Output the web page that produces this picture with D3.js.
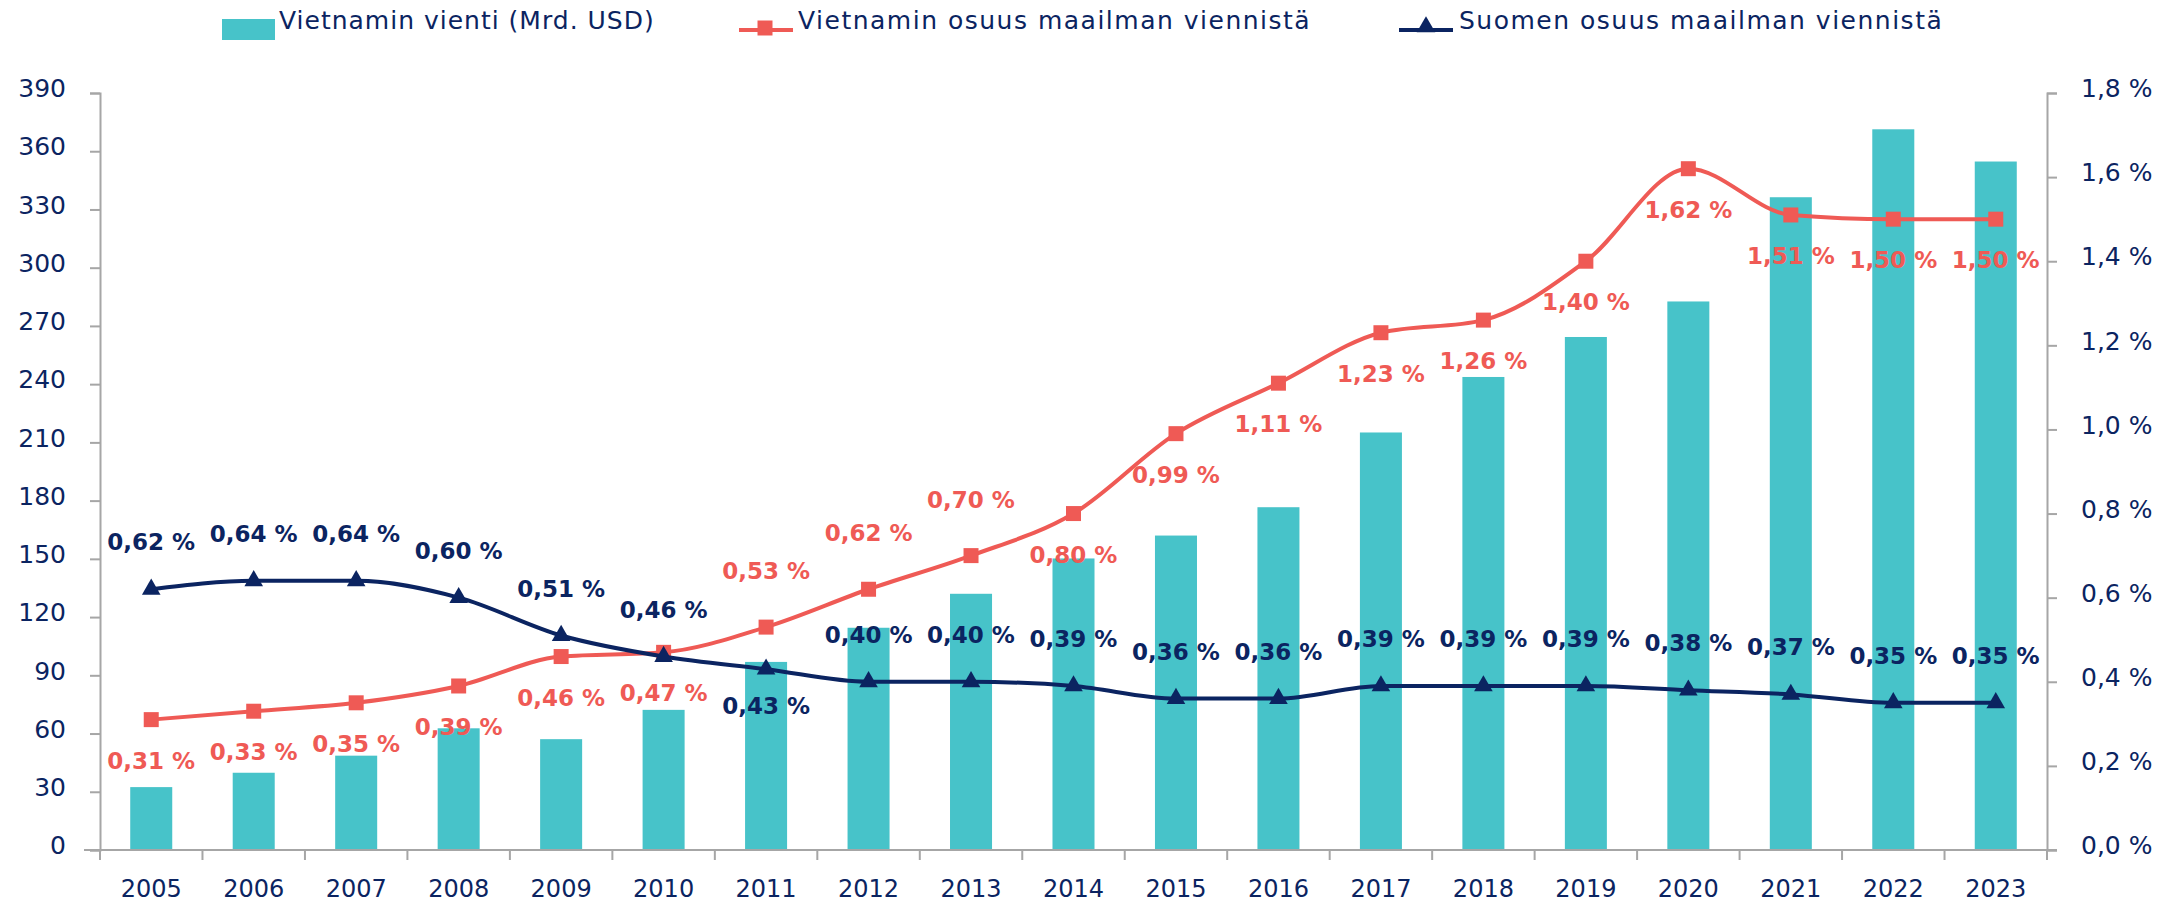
<!DOCTYPE html>
<html>
<head>
<meta charset="utf-8">
<script src="https://cdn.jsdelivr.net/npm/d3@7"></script>
<style>
  html, body { margin: 0; padding: 0; background: #ffffff; }
  svg { display: block; }
</style>
</head>
<body>
<svg id="chart" width="2172" height="906"></svg>
<script>
// ---- data ----
const years = ["2005","2006","2007","2008","2009","2010","2011","2012","2013","2014","2015","2016","2017","2018","2019","2020","2021","2022","2023"];
const vietnamExports = [32.4, 39.8, 48.6, 62.7, 57.1, 72.2, 96.9, 114.5, 132.0, 150.2, 162.0, 176.6, 215.1, 243.7, 264.3, 282.6, 336.3, 371.3, 354.7];
const vietnamShare = [0.31, 0.33, 0.35, 0.39, 0.46, 0.47, 0.53, 0.62, 0.70, 0.80, 0.99, 1.11, 1.23, 1.26, 1.40, 1.62, 1.51, 1.50, 1.50];
const finlandShare = [0.62, 0.64, 0.64, 0.60, 0.51, 0.46, 0.43, 0.40, 0.40, 0.39, 0.36, 0.36, 0.39, 0.39, 0.39, 0.38, 0.37, 0.35, 0.35];
const vietnamLabelSide = ["below","below","below","below","below","below","above","above","above","below","below","below","below","below","below","below","below","below","below"];
const finlandLabelSide = ["above","above","above","above","above","above","below","above","above","above","above","above","above","above","above","above","above","above","above"];
const leftTicks = [0, 30, 60, 90, 120, 150, 180, 210, 240, 270, 300, 330, 360, 390];
const rightTicks = [0, 0.2, 0.4, 0.6, 0.8, 1.0, 1.2, 1.4, 1.6, 1.8];
const seriesNames = ["Vietnamin vienti (Mrd. USD)", "Vietnamin osuus maailman viennistä", "Suomen osuus maailman viennistä"];

(function () {
// ---- style ----
const TEAL = "#47C3C9", RED = "#EF5A55", NAVY = "#0B2461", GRID = "#A6A6A6";
const FONT = "'DejaVu Sans', sans-serif";

const svg = d3.select("#chart");
const pLeft = 100, pRight = 2047, pTop = 93, pBottom = 850;

const x = d3.scaleBand().domain(years).range([pLeft, pRight]).paddingInner(0.59).paddingOuter(0.295);
const xBand = d3.scaleBand().domain(years).range([pLeft, pRight]);
const yL = d3.scaleLinear().domain([0, 390]).range([pBottom, pTop]);
const yR = d3.scaleLinear().domain([0, 1.8]).range([pBottom, pTop]);
const cx = d => xBand(d) + xBand.bandwidth() / 2;

const fmtComma = (v, n) => v.toFixed(n).replace(".", ",") + " %";

// bars
svg.append("g").selectAll("rect").data(years).join("rect")
  .attr("x", d => x(d))
  .attr("width", x.bandwidth())
  .attr("y", (d, i) => yL(vietnamExports[i]))
  .attr("height", (d, i) => yL(0) - yL(vietnamExports[i]))
  .attr("fill", TEAL);

// left axis
const gL = svg.append("g").attr("transform", `translate(${pLeft},0)`)
  .call(d3.axisLeft(yL).tickValues(leftTicks).tickSize(10).tickPadding(24).tickFormat(d3.format("d")));
// right axis
const gR = svg.append("g").attr("transform", `translate(${pRight},0)`)
  .call(d3.axisRight(yR).tickValues(rightTicks).tickSize(10).tickPadding(24).tickFormat(d => fmtComma(d, 1)));
// bottom axis with ticks at band boundaries
const gB = svg.append("g").attr("transform", `translate(0,${pBottom})`)
  .call(d3.axisBottom(xBand).tickSize(0).tickPadding(30));
gB.selectAll(".boundary").data(years.concat(["end"])).join("line")
  .attr("class", "boundary")
  .attr("x1", (d, i) => i < years.length ? xBand(d) : pRight)
  .attr("x2", (d, i) => i < years.length ? xBand(d) : pRight)
  .attr("y1", 0).attr("y2", 10)
  .attr("stroke", GRID).attr("stroke-width", 2);

[gL, gR, gB].forEach(g => {
  g.select(".domain").attr("stroke", GRID).attr("stroke-width", 2);
  g.selectAll(".tick line").attr("stroke", GRID).attr("stroke-width", 2);
  g.selectAll(".tick text").attr("fill", NAVY).attr("font-family", FONT).attr("font-size", 25);
});
gL.selectAll(".tick text").attr("dy", "0.15em");
gR.selectAll(".tick text").attr("dy", "0.15em");
gB.select(".domain").attr("d", `M${pLeft - 16},0H${pRight + 10}`);
gB.selectAll(".tick text").attr("font-size", 24);

// lines
const line = d3.line().curve(d3.curveMonotoneX);
function drawSeries(vals, color, marker, sides, aboveOff, belowOff) {
  const pts = years.map((d, i) => [cx(d), yR(vals[i])]);
  svg.append("path").attr("d", line(pts)).attr("fill", "none")
    .attr("stroke", color).attr("stroke-width", 4).attr("stroke-linejoin", "round");
  const sym = d3.symbol().type(marker).size(marker === d3.symbolSquare ? 225 : 150);
  svg.append("g").selectAll("path").data(pts).join("path")
    .attr("transform", p => `translate(${p[0]},${p[1]})`)
    .attr("d", sym).attr("fill", color);
  svg.append("g").selectAll("text").data(pts).join("text")
    .attr("x", p => p[0])
    .attr("y", (p, i) => p[1] + (sides[i] === "above" ? -aboveOff : belowOff))
    .attr("text-anchor", "middle").attr("dominant-baseline", "central")
    .attr("font-family", FONT).attr("font-weight", "bold").attr("font-size", 23)
    .attr("fill", color)
    .text((p, i) => fmtComma(vals[i], 2));
}
drawSeries(vietnamShare, RED, d3.symbolSquare, vietnamLabelSide, 56, 41);
drawSeries(finlandShare, NAVY, d3.symbolTriangle, finlandLabelSide, 47, 37);

// legend
const lg = svg.append("g").attr("font-family", FONT).attr("font-size", 25).attr("fill", NAVY);
lg.append("rect").attr("x", 222).attr("y", 19).attr("width", 53).attr("height", 21).attr("fill", TEAL);
lg.append("text").attr("x", 279).attr("y", 29).attr("letter-spacing", 1).text(seriesNames[0]);
lg.append("line").attr("x1", 739).attr("x2", 793).attr("y1", 30).attr("y2", 30).attr("stroke", RED).attr("stroke-width", 4);
lg.append("path").attr("transform", "translate(765,28)").attr("d", d3.symbol().type(d3.symbolSquare).size(225)).attr("fill", RED);
lg.append("text").attr("x", 798).attr("y", 29).attr("letter-spacing", 1.5).text(seriesNames[1]);
lg.append("line").attr("x1", 1399).attr("x2", 1453).attr("y1", 30).attr("y2", 30).attr("stroke", NAVY).attr("stroke-width", 4);
lg.append("path").attr("transform", "translate(1426,27)").attr("d", d3.symbol().type(d3.symbolTriangle).size(150)).attr("fill", NAVY);
lg.append("text").attr("x", 1459).attr("y", 29).attr("letter-spacing", 1.5).text(seriesNames[2]);
})();
</script>
</body>
</html>
